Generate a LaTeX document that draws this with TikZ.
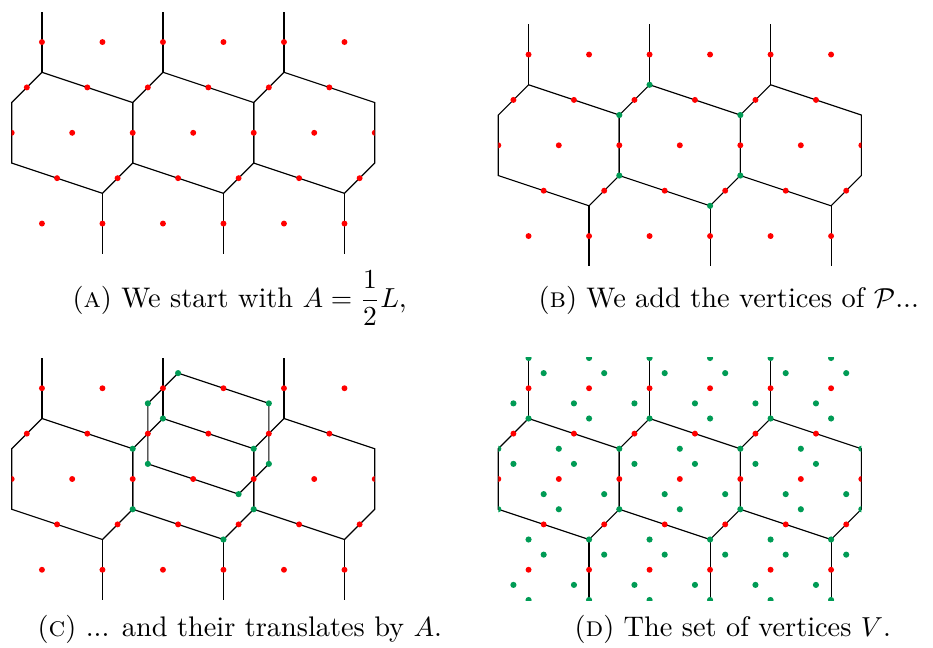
\documentclass[tikz,border=0pt]{standalone}
\usepackage{amsmath}
\definecolor{vgreen}{RGB}{0,155,85}
\tikzset{
  edge/.style={line width=0.42pt, black},
  caption/.style={anchor=base west, inner sep=0pt, font=\fontsize{10.3}{12.4}\selectfont},
  panel/.style={x=22pt, y=22pt},
}
\newcommand\tessel{%
  \foreach \c in {0,2,4}{
    \draw[edge] (\c-0.5,1) -- (\c+1,0.5) -- (\c+1,-0.5) -- (\c+0.5,-1) -- (\c-1,-0.5) -- (\c-1,0.5) -- cycle;
    \draw[edge] (\c-0.5,1) -- (\c-0.5,2);
    \draw[edge] (\c+0.5,-1) -- (\c+0.5,-2);
  }}
\newcommand\reddots{%
  \foreach \b in {-2,...,2}{\foreach \a in {-3,...,7}{
    \fill[red] ({\a+0.25*\b},{0.75*\b}) circle[radius=1.08pt];}}}
\newcommand\gdot[1]{\fill[vgreen] (#1) circle[radius=1.12pt];}
\newcommand\cellverts{%
  \gdot{1.5,1}\gdot{3,0.5}\gdot{3,-0.5}\gdot{2.5,-1}\gdot{1,-0.5}\gdot{1,0.5}}
\begin{document}
\begin{tikzpicture}[x=0.3636pt, y=-0.3636pt]
\useasboundingbox (0,0) rectangle (933,647);
% Panel A
\begin{scope}[shift={(72.2,132.8)}, panel]
  \tessel
  \begin{scope}\clip (-1,-2) rectangle (5,2); \reddots \end{scope}
\end{scope}
% Panel B
\begin{scope}[shift={(558.8,145.3)}, panel]
  \tessel
  \begin{scope}\clip (-1,-2) rectangle (5,2); \reddots \cellverts \end{scope}
\end{scope}
% Panel C
\begin{scope}[shift={(72.2,479)}, panel]
  \tessel
  \draw[edge] (1.75,1.75) -- (3.25,1.25) -- (3.25,0.25) -- (2.75,-0.25) -- (1.25,0.25) -- (1.25,1.25) -- cycle;
  \begin{scope}\clip (-1,-2) rectangle (5,2);
    \reddots \cellverts
    \begin{scope}[shift={(0.25,0.75)}]\cellverts\end{scope}
  \end{scope}
\end{scope}
% Panel D
\begin{scope}[shift={(558.8,479)}, panel]
  \tessel
  \begin{scope}\clip (-1,-2) rectangle (5,2);
    \foreach \b in {-5,...,5}{\foreach \a in {-4,...,8}{
      \fill[vgreen] ({\a+0.25*\b-0.5},{0.75*\b+1}) circle[radius=1.12pt];
      \fill[vgreen] ({\a+0.25*\b+0.5},{0.75*\b-1}) circle[radius=1.12pt];}}
    \reddots
  \end{scope}
\end{scope}
% Captions
\node[caption] (capA) at (72,307) {(\textsc{a}) We start with $A=\dfrac{1}{2}L$,};
\node[caption] (capB) at (538,307) {(\textsc{b}) We add the vertices of $\mathcal{P}$...};
\node[caption] (capC) at (37,636) {(\textsc{c}) ... and their translates by $A$.};
\node[caption] (capD) at (574,636) {(\textsc{d}) The set of vertices $V$.};
\end{tikzpicture}
\end{document}
